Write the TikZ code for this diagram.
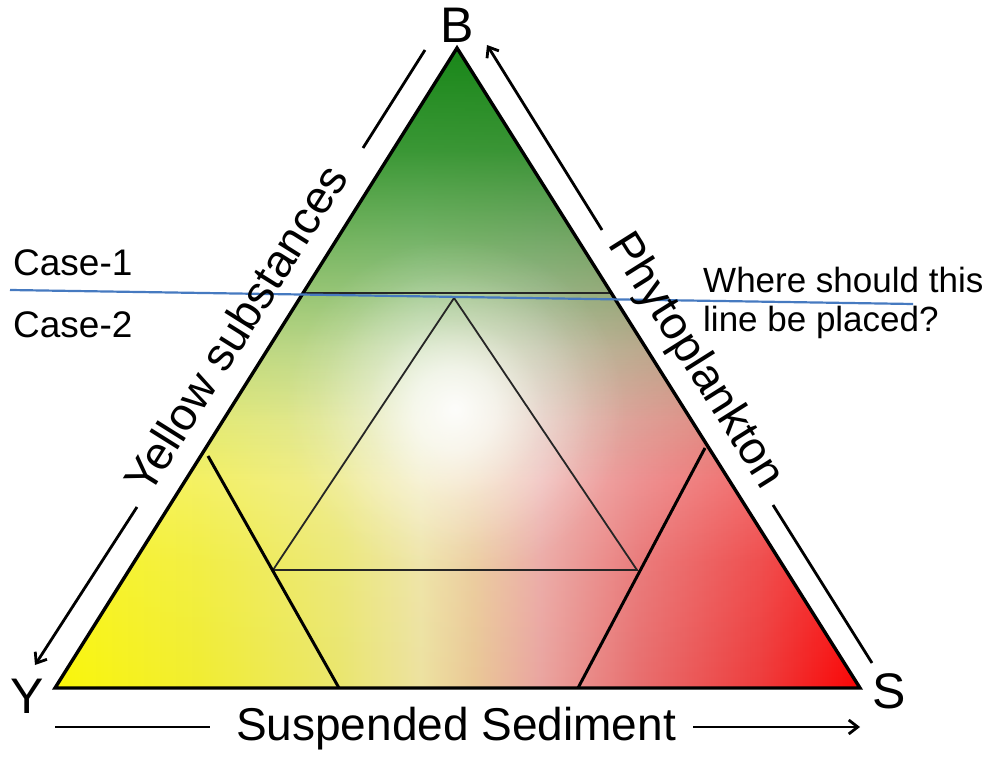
\documentclass[tikz,border=0pt]{standalone}
\usepackage{fontspec}
\setmainfont{Liberation Sans}
\usetikzlibrary{arrows.meta,fadings,calc}

% base colours (bottom edge, left to right)
\definecolor{c1}{RGB}{250,246,10}
\definecolor{c2}{RGB}{241,237,50}
\definecolor{c3}{RGB}{234,230,110}
\definecolor{c4}{RGB}{237,226,160}
\definecolor{c5}{RGB}{234,200,150}
\definecolor{c6}{RGB}{234,165,160}
\definecolor{c7}{RGB}{232,110,110}
\definecolor{c8}{RGB}{238,60,60}
\definecolor{c9}{RGB}{250,5,5}
\definecolor{gcol}{RGB}{25,135,25}
\definecolor{bluecol}{RGB}{70,122,192}

\pgfdeclarehorizontalshading{ysr}{100bp}{color(0bp)=(c1); color(25bp)=(c1);
  color(34bp)=(c2); color(42.7bp)=(c3); color(47.7bp)=(c4); color(51bp)=(c5);
  color(55.1bp)=(c6); color(61.3bp)=(c7); color(68.8bp)=(c8); color(75bp)=(c9);
  color(100bp)=(c9)}

% white wash, growing upwards
\pgfdeclareverticalshading{wsh}{100bp}{color(0bp)=(black); color(25bp)=(black);
  color(35bp)=(white!10!black); color(43.6bp)=(white!30!black);
  color(51.4bp)=(white!50!black); color(59.2bp)=(white!60!black);
  color(75bp)=(white!60!black); color(100bp)=(white!60!black)}
\pgfdeclarefading{wfade}{\pgfuseshading{wsh}}

% green from the top
\pgfdeclareverticalshading{gsh}{100bp}{color(0bp)=(black); color(25bp)=(black);
  color(31.9bp)=(white!8!black); color(40bp)=(white!25!black);
  color(46.4bp)=(white!42!black); color(51.6bp)=(white!55!black);
  color(63.2bp)=(white!85!black); color(75bp)=(white); color(100bp)=(white)}
\pgfdeclarefading{gfade}{\pgfuseshading{gsh}}

% white glow in the middle
\pgfdeclareradialshading{glsh}{\pgfpointorigin}{color(0bp)=(white!95!black);
  color(6bp)=(white!75!black); color(13bp)=(white!35!black);
  color(20bp)=(white!10!black); color(25bp)=(black); color(50bp)=(black)}
\pgfdeclarefading{glowfade}{\pgfuseshading{glsh}}

\tikzset{
  outline/.style={draw=black, line width=3.4pt, line join=miter},
  thinline/.style={draw=black!85, line width=1.8pt},
  cornerline/.style={draw=black, line width=3pt},
  blueline/.style={draw=bluecol, line width=2.2pt},
  arr/.style={draw=black, line width=2.8pt},
  arrtip/.style={arr, -{Straight Barb[length=9pt,width=14pt]}},
  biglab/.style={font=\fontsize{50}{60}\selectfont, inner sep=0pt},
  caselab/.style={font=\fontsize{37}{44}\selectfont, inner sep=0pt},
  wherelab/.style={font=\fontsize{35}{42}\selectfont, inner sep=0pt},
  sidelab/.style={font=\fontsize{46}{55}\selectfont, inner sep=0pt},
}

\begin{document}
\begin{tikzpicture}[x=1pt,y=1pt]
\useasboundingbox (0,0) rectangle (990,761);

\coordinate (Yc) at (55,73);
\coordinate (Sc) at (860,73);
\coordinate (Bc) at (457,713);

% gradient fill
\begin{scope}
  \clip (Yc)--(Sc)--(Bc)--cycle;
  \shade[shading=ysr] (55,73) rectangle (860,713);
  \fill[white, path fading=wfade] (55,73) rectangle (860,713);
  \fill[gcol, path fading=gfade] (55,281) rectangle (860,713);
  \fill[white, path fading=glowfade] (455,352) circle (170);
\end{scope}

% band line between case 1 and case 2 regions
\coordinate (hl) at ($(Yc)!0.617!(Bc)$);
\coordinate (hr) at ($(Sc)!0.617!(Bc)$);
\draw[thinline] (hl) -- (hr);

% inner triangle
\coordinate (ia) at (454,463);
\coordinate (ib) at (273,191);
\coordinate (ic) at (637,191);
\draw[thinline] (ia) -- (ib) -- (ic) -- cycle;

% corner lines
\coordinate (yl1) at (208,305);
\coordinate (yl2) at (339,73);
\coordinate (sl1) at (705,313);
\coordinate (sl2) at (578,73);
\draw[cornerline] (yl1) -- (yl2);
\draw[cornerline] (sl1) -- (sl2);

% main outline
\draw[outline] (Yc) -- (Sc) -- (Bc) -- cycle;

% blue line
\coordinate (bl1) at (10,471);
\coordinate (bl2) at (913,457);
\draw[blueline] (bl1) -- (bl2);

% corner labels
\node[biglab, anchor=base] (Blab) at (457,718) {B};
\node[biglab, anchor=base] (Ylab) at (27,48) {Y};
\node[biglab, anchor=base] (Slab) at (889,53) {S};

% case labels
\node[caselab, anchor=base west] (case1) at (13,485) {Case-1};
\node[caselab, anchor=base west] (case2) at (13,423) {Case-2};

% question
\node[wherelab, anchor=base west] (w1) at (703,468) {Where should this};
\node[wherelab, anchor=base west] (w2) at (703,429) {line be placed?};

% side labels
\node[sidelab, rotate=57.87] (ys) at (235.5,432.5) {Yellow substances};
\node[sidelab, rotate=-57.8] (ph) at (695,399.5) {Phytoplankton};
\node[sidelab, anchor=base] (ss) at (456,21) {Suspended Sediment};

% left arrow (towards Y)
\coordinate (la1) at (425,711);
\coordinate (la2) at (363,613);
\coordinate (la3) at (137,254);
\coordinate (la4) at (35,96);
\draw[arr] (la1) -- (la2);
\draw[arrtip] (la3) -- (la4);

% right arrow (towards B)
\coordinate (ra1) at (872,98);
\coordinate (ra2) at (773,256);
\coordinate (ra3) at (602,531);
\coordinate (ra4) at (487,716);
\draw[arr] (ra1) -- (ra2);
\draw[arrtip] (ra3) -- (ra4);

% bottom arrow (towards S)
\coordinate (ba1) at (55,34);
\coordinate (ba2) at (210,34);
\coordinate (ba3) at (693,34);
\coordinate (ba4) at (860,34);
\draw[arr] (ba1) -- (ba2);
\draw[arrtip] (ba3) -- (ba4);
\end{tikzpicture}
\end{document}
